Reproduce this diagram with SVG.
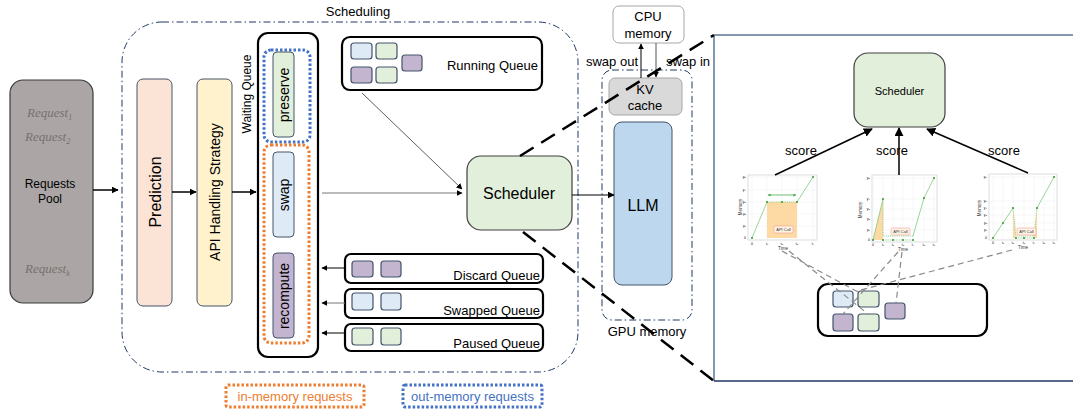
<svg xmlns="http://www.w3.org/2000/svg" width="1073" height="410" viewBox="0 0 1073 410">
<defs>
<marker id="ah" viewBox="0 0 10 10" refX="9" refY="5" markerWidth="7" markerHeight="7" markerUnits="userSpaceOnUse" orient="auto"><path d="M0,0 L10,5 L0,10 z" fill="#000"/></marker>
<marker id="ahs" viewBox="0 0 10 10" refX="9" refY="5" markerWidth="6" markerHeight="6" markerUnits="userSpaceOnUse" orient="auto"><path d="M0,0 L10,5 L0,10 z" fill="#000"/></marker>
<marker id="ahb" viewBox="0 0 10 10" refX="9" refY="5" markerWidth="9" markerHeight="9" markerUnits="userSpaceOnUse" orient="auto"><path d="M0,0 L10,5 L0,10 z" fill="#000"/></marker>
<marker id="ahg" viewBox="0 0 10 10" refX="9" refY="5" markerWidth="3" markerHeight="3" markerUnits="userSpaceOnUse" orient="auto-start-reverse"><path d="M0,0 L10,5 L0,10 z" fill="#4caf50"/></marker>
</defs>
<style>
text{font-family:"Liberation Sans",Arial,sans-serif;fill:#000}
.req{font-family:"Liberation Serif","DejaVu Serif",serif;font-style:italic;fill:#767171;font-size:13px}
.box{stroke:#44546a;stroke-width:1}
.sq{stroke:#44546a;stroke-width:1.2}
.lb{fill:#deebf7}.gr{fill:#e2efda}.pu{fill:#c3b4d0}
.q{fill:#fff;stroke:#000;stroke-width:2.2}
.dd{fill:none;stroke:#1f3864;stroke-width:1;stroke-dasharray:7 3 1.5 3}
.big{fill:none;stroke:#000;stroke-width:2.5;stroke-dasharray:16 9}
.gd{fill:none;stroke:#8a8a8a;stroke-width:1.2;stroke-dasharray:6 4}
.fr{fill:#fff;stroke:#cfcfcf;stroke-width:0.7}
.grid{stroke:#ececec;stroke-width:0.5}
.gl{fill:none;stroke:#7fc97f;stroke-width:0.8}
.gdot{fill:none;stroke:#7fc97f;stroke-width:0.8;stroke-dasharray:1.2 1}
.pt{fill:#2e9b2e}
.tk{font-size:3.5px;fill:#444}
.ax{font-size:4.5px;fill:#333}
.api{font-size:4px;fill:#333}
</style>

<!-- Requests pool -->
<g id="requests-pool">
<rect x="10" y="80" width="83" height="223" rx="13" fill="#aba6a5" stroke="#3a3a3a" stroke-width="1.2"/>
<text class="req" x="27" y="117">Request<tspan font-size="8" dy="3">1</tspan></text>
<text class="req" x="25" y="141">Request<tspan font-size="8" dy="3">2</tspan></text>
<text x="50" y="188" font-size="12" text-anchor="middle">Requests</text>
<text x="50" y="203" font-size="12" text-anchor="middle">Pool</text>
<text class="req" x="25" y="273">Request<tspan font-size="8" dy="3">k</tspan></text>
</g>

<!-- Scheduling container -->
<g id="scheduling">
<rect class="dd" x="122" y="22" width="456" height="350" rx="40"/>
<text x="358" y="16" font-size="13" text-anchor="middle">Scheduling</text>
</g>

<g id="prediction">
<rect class="box" x="137" y="79" width="35" height="227" rx="6" fill="#fbe3d6"/>
<text transform="translate(155,192) rotate(-90)" font-size="16" text-anchor="middle" dominant-baseline="central">Prediction</text>
</g>

<g id="api-handling">
<rect class="box" x="197" y="79" width="35" height="227" rx="6" fill="#fff2cc"/>
<text transform="translate(215,192) rotate(-90)" font-size="14" text-anchor="middle" dominant-baseline="central">API Handling Strategy</text>
</g>

<g id="waiting-queue">
<rect class="q" x="258" y="33" width="60" height="324" rx="10"/>
<text transform="translate(247,94) rotate(-90)" font-size="12" text-anchor="middle" dominant-baseline="central">Waiting Queue</text>
<rect x="264" y="50" width="46" height="92" rx="7" fill="none" stroke="#4472c4" stroke-width="3" stroke-dasharray="2.5 2"/>
<rect x="264" y="145" width="45" height="198" rx="7" fill="none" stroke="#ed7d31" stroke-width="3" stroke-dasharray="2.5 2"/>
</g>
<g id="preserve">
<rect class="box gr" x="273" y="52" width="21" height="85" rx="4"/>
<text transform="translate(284,95) rotate(-90)" font-size="14" text-anchor="middle" dominant-baseline="central">preserve</text>
</g>
<g id="swap">
<rect class="box lb" x="273" y="152" width="21" height="85" rx="4"/>
<text transform="translate(284,195) rotate(-90)" font-size="14" text-anchor="middle" dominant-baseline="central">swap</text>
</g>
<g id="recompute">
<rect class="box pu" x="273" y="253" width="21" height="85" rx="4"/>
<text transform="translate(284,296) rotate(-90)" font-size="14" text-anchor="middle" dominant-baseline="central">recompute</text>
</g>

<g id="running-queue">
<rect class="q" x="342" y="37" width="200" height="53" rx="8"/>
<rect class="sq lb" x="351" y="43" width="21" height="16" rx="3"/>
<rect class="sq gr" x="376" y="43" width="21" height="16" rx="3"/>
<rect class="sq pu" x="402" y="55" width="20" height="16" rx="3"/>
<rect class="sq pu" x="351" y="67" width="21" height="16" rx="3"/>
<rect class="sq gr" x="376" y="67" width="21" height="16" rx="3"/>
<text x="538" y="70" font-size="13" text-anchor="end">Running Queue</text>
</g>

<g id="discard-queue">
<rect class="q" x="345" y="254" width="198" height="29" rx="6"/>
<rect class="sq pu" x="352" y="261" width="21" height="16" rx="3"/>
<rect class="sq pu" x="381" y="261" width="20" height="16" rx="3"/>
<text x="540" y="280" font-size="13" text-anchor="end">Discard Queue</text>
</g>
<g id="swapped-queue">
<rect class="q" x="345" y="289" width="198" height="29" rx="6"/>
<rect class="sq lb" x="352" y="293" width="21" height="17" rx="3"/>
<rect class="sq lb" x="381" y="293" width="20" height="17" rx="3"/>
<text x="540" y="315" font-size="13" text-anchor="end">Swapped Queue</text>
</g>
<g id="paused-queue">
<rect class="q" x="345" y="324" width="198" height="27" rx="6"/>
<rect class="sq gr" x="352" y="328" width="21" height="17" rx="3"/>
<rect class="sq gr" x="381" y="328" width="20" height="17" rx="3"/>
<text x="540" y="348" font-size="13" text-anchor="end">Paused Queue</text>
</g>

<g id="scheduler">
<rect x="467" y="156" width="105" height="74" rx="14" fill="#e2efda" stroke="#404040" stroke-width="1.2"/>
<text x="519" y="199" font-size="16" text-anchor="middle">Scheduler</text>
</g>

<g id="gpu-memory">
<rect class="dd" x="602" y="70" width="90" height="250" rx="10"/>
<text x="647" y="336" font-size="13" text-anchor="middle">GPU memory</text>
</g>
<g id="kv-cache">
<rect x="609" y="78" width="73" height="37" rx="6" fill="#d9d9d9" stroke="#a6a6a6" stroke-width="1"/>
<text x="645" y="94" font-size="13" text-anchor="middle">KV</text>
<text x="645" y="110" font-size="13" text-anchor="middle">cache</text>
</g>
<g id="llm">
<rect x="614" y="122" width="58" height="163" rx="8" fill="#bdd7ee" stroke="#44546a" stroke-width="1"/>
<text x="643" y="211" font-size="16" text-anchor="middle">LLM</text>
</g>
<g id="cpu-memory">
<rect x="613" y="6" width="71" height="37" rx="6" fill="#fff" stroke="#a6a6a6" stroke-width="1"/>
<text x="648" y="21" font-size="13" text-anchor="middle">CPU</text>
<text x="648" y="38" font-size="13" text-anchor="middle">memory</text>
</g>

<!-- right detail panel -->
<g id="detail-panel">
<line x1="714" y1="35" x2="1073" y2="35" stroke="#8497b0" stroke-width="2"/>
<line x1="714" y1="35" x2="714" y2="381" stroke="#8497b0" stroke-width="2"/>
<line x1="714" y1="381" x2="1073" y2="381" stroke="#1f3864" stroke-width="1.5"/>
</g>
<g id="detail-scheduler">
<rect x="854" y="53" width="91" height="74" rx="14" fill="#e2efda" stroke="#404040" stroke-width="1.2"/>
<text x="899.5" y="95" font-size="11" text-anchor="middle">Scheduler</text>
</g>

<g id="chart-1">
<rect class="fr" x="748" y="175" width="69" height="65"/>
<g class="grid"><line x1="752" y1="175" x2="752" y2="240"/><line x1="767" y1="175" x2="767" y2="240"/><line x1="782" y1="175" x2="782" y2="240"/><line x1="797" y1="175" x2="797" y2="240"/><line x1="813" y1="175" x2="813" y2="240"/><line x1="748" y1="226" x2="817" y2="226"/><line x1="748" y1="214" x2="817" y2="214"/><line x1="748" y1="202" x2="817" y2="202"/><line x1="748" y1="190" x2="817" y2="190"/><line x1="748" y1="177" x2="817" y2="177"/></g>
<rect x="767" y="202" width="30" height="36" fill="#fdd9a3"/>
<polyline class="gl" points="752,238 767,202"/><polyline class="gdot" points="767,202 797,202"/><polyline class="gl" points="797,202 813,177"/>
<line x1="768" y1="195" x2="796" y2="195" stroke="#4caf50" stroke-width="0.8" marker-start="url(#ahg)" marker-end="url(#ahg)"/>
<g class="pt"><circle cx="752" cy="238" r="1"/><circle cx="767" cy="202" r="1"/><circle cx="782" cy="202" r="1"/><circle cx="797" cy="202" r="1"/><circle cx="813" cy="177" r="1"/></g>
<rect x="774" y="226" width="19" height="7" rx="1.5" fill="#fff3e3" stroke="#f08a8a" stroke-width="0.5"/>
<text class="api" x="783.5" y="231" text-anchor="middle">API Call</text>
<text class="ax" transform="translate(742,207) rotate(-90)" text-anchor="middle">Memory</text>
<text class="ax" x="783" y="250" text-anchor="middle">Time</text>
<g class="tk" text-anchor="middle"><text x="752" y="245">0</text><text x="767" y="245">t₁</text><text x="782" y="245">t₂</text><text x="797" y="245">t₃</text><text x="813" y="245">t₄</text></g>
<g class="tk" text-anchor="end"><text x="746" y="239">0</text><text x="746" y="227">y₁</text><text x="746" y="215">y₂</text><text x="746" y="203">y₃</text><text x="746" y="191">y₄</text><text x="746" y="178">y₅</text></g>
</g>

<g id="chart-2">
<rect class="fr" x="872" y="175" width="65" height="67"/>
<g class="grid"><line x1="873" y1="175" x2="873" y2="242"/><line x1="883" y1="175" x2="883" y2="242"/><line x1="893" y1="175" x2="893" y2="242"/><line x1="903" y1="175" x2="903" y2="242"/><line x1="913" y1="175" x2="913" y2="242"/><line x1="924" y1="175" x2="924" y2="242"/><line x1="934" y1="175" x2="934" y2="242"/><line x1="872" y1="230" x2="937" y2="230"/><line x1="872" y1="219" x2="937" y2="219"/><line x1="872" y1="209" x2="937" y2="209"/><line x1="872" y1="199" x2="937" y2="199"/><line x1="872" y1="178" x2="937" y2="178"/></g>
<polygon points="873,240 883,199 883,240" fill="#fdd9a3"/>
<polyline class="gl" points="873,240 883,199"/><polyline class="gdot" points="883,199 883,236 913,236"/><polyline class="gdot" points="883,240 913,240"/><polyline class="gl" points="913,236 924,198 934,178"/>
<g class="pt"><circle cx="873" cy="240" r="1"/><circle cx="883" cy="199" r="1"/><circle cx="883" cy="240" r="1"/><circle cx="893" cy="240" r="1"/><circle cx="903" cy="240" r="1"/><circle cx="913" cy="240" r="1"/><circle cx="924" cy="198" r="1"/><circle cx="934" cy="178" r="1"/></g>
<rect x="891" y="228" width="19" height="7" rx="1.5" fill="#fff3e3" stroke="#f08a8a" stroke-width="0.5"/>
<text class="api" x="900.5" y="233" text-anchor="middle">API Call</text>
<text class="ax" transform="translate(862,210) rotate(-90)" text-anchor="middle">Memory</text>
<text class="ax" x="903" y="251" text-anchor="middle">Time</text>
<g class="tk" text-anchor="middle"><text x="873" y="246">0</text><text x="883" y="246">t₁</text><text x="893" y="246">t₂</text><text x="903" y="246">t₃</text><text x="913" y="246">t₄</text><text x="924" y="246">t₅</text><text x="934" y="246">t₆</text></g>
<g class="tk" text-anchor="end"><text x="870" y="241">0</text><text x="870" y="231">y₁</text><text x="870" y="220">y₂</text><text x="870" y="210">y₃</text><text x="870" y="200">y₄</text><text x="870" y="179">y₅</text></g>
</g>

<g id="chart-3">
<rect class="fr" x="989" y="174" width="68" height="66"/>
<g class="grid"><line x1="993" y1="174" x2="993" y2="240"/><line x1="1003" y1="174" x2="1003" y2="240"/><line x1="1013" y1="174" x2="1013" y2="240"/><line x1="1024" y1="174" x2="1024" y2="240"/><line x1="1034" y1="174" x2="1034" y2="240"/><line x1="1044" y1="174" x2="1044" y2="240"/><line x1="1054" y1="174" x2="1054" y2="240"/><line x1="989" y1="230" x2="1057" y2="230"/><line x1="989" y1="223" x2="1057" y2="223"/><line x1="989" y1="215" x2="1057" y2="215"/><line x1="989" y1="208" x2="1057" y2="208"/><line x1="989" y1="201" x2="1057" y2="201"/><line x1="989" y1="177" x2="1057" y2="177"/></g>
<polygon points="1013,208 1016,238 1013,238" fill="#fdd9a3"/>
<polygon points="1034,238 1037,208 1037,238" fill="#fdd9a3"/>
<polyline class="gl" points="993,238 1003,223 1013,208"/><polyline class="gdot" points="1013,208 1016,236 1034,236 1037,208"/><polyline class="gdot" points="1016,238 1034,238"/><polyline class="gl" points="1037,208 1054,177"/>
<g class="pt"><circle cx="993" cy="238" r="1"/><circle cx="1003" cy="223" r="1"/><circle cx="1013" cy="208" r="1"/><circle cx="1016" cy="238" r="1"/><circle cx="1024" cy="238" r="1"/><circle cx="1034" cy="238" r="1"/><circle cx="1037" cy="208" r="1"/><circle cx="1054" cy="177" r="1"/></g>
<rect x="1017" y="228" width="19" height="7" rx="1.5" fill="#fff3e3" stroke="#f08a8a" stroke-width="0.5"/>
<text class="api" x="1026.5" y="233" text-anchor="middle">API Call</text>
<text class="ax" transform="translate(981,208) rotate(-90)" text-anchor="middle">Memory</text>
<text class="ax" x="1023" y="249" text-anchor="middle">Time</text>
<g class="tk" text-anchor="middle"><text x="993" y="244">0</text><text x="1003" y="244">t₁</text><text x="1013" y="244">t₂</text><text x="1024" y="244">t₃</text><text x="1034" y="244">t₄</text><text x="1044" y="244">t₅</text><text x="1054" y="244">t₆</text></g>
<g class="tk" text-anchor="end"><text x="987" y="239">0</text><text x="987" y="231">y₁</text><text x="987" y="224">y₂</text><text x="987" y="216">y₃</text><text x="987" y="209">y₄</text><text x="987" y="202">y₅</text><text x="987" y="178">y₆</text></g>
</g>

<g id="detail-queue">
<rect class="q" x="818" y="284" width="169" height="52" rx="10"/>
<rect class="sq lb" x="833" y="291" width="20" height="16" rx="3"/>
<rect class="sq gr" x="858" y="291" width="21" height="16" rx="3"/>
<rect class="sq pu" x="885" y="303" width="20" height="16" rx="3"/>
<rect class="sq pu" x="833" y="314" width="20" height="17" rx="3"/>
<rect class="sq gr" x="858" y="314" width="21" height="17" rx="3"/>
</g>

<g id="legend">
<rect x="226" y="385" width="138" height="22" rx="2" fill="none" stroke="#ed7d31" stroke-width="3" stroke-dasharray="2.5 2"/>
<text x="295" y="401" font-size="13" style="fill:#ed7d31" text-anchor="middle">in-memory requests</text>
<rect x="403" y="385" width="139" height="22" rx="2" fill="none" stroke="#4472c4" stroke-width="3" stroke-dasharray="2.5 2"/>
<text x="472.5" y="401" font-size="13" style="fill:#4472c4" text-anchor="middle">out-memory requests</text>
</g>

<g id="connectors">
<line x1="93" y1="190" x2="118" y2="190" stroke="#000" stroke-width="1.5" marker-end="url(#ah)"/>
<line x1="172" y1="192" x2="196" y2="192" stroke="#000" stroke-width="1.5" marker-end="url(#ah)"/>
<line x1="232" y1="192" x2="256" y2="192" stroke="#000" stroke-width="1.5" marker-end="url(#ah)"/>
<line x1="322" y1="193" x2="462" y2="193" stroke="#555" stroke-width="0.8" marker-end="url(#ahs)"/>
<line x1="362" y1="93" x2="462" y2="189" stroke="#333" stroke-width="0.8" marker-end="url(#ahs)"/>
<line x1="345" y1="268" x2="322" y2="268" stroke="#000" stroke-width="1" marker-end="url(#ahs)"/>
<line x1="345" y1="303" x2="322" y2="303" stroke="#777" stroke-width="1" marker-end="url(#ahs)"/>
<line x1="345" y1="333" x2="322" y2="333" stroke="#000" stroke-width="1" marker-end="url(#ahs)"/>
<line x1="572" y1="195" x2="614" y2="195" stroke="#000" stroke-width="1.2" marker-end="url(#ah)"/>
<line x1="641" y1="78" x2="641" y2="44" stroke="#000" stroke-width="1" marker-end="url(#ahs)"/>
<line x1="656" y1="43" x2="656" y2="77" stroke="#555" stroke-width="1" marker-end="url(#ahs)"/>
<text x="612" y="66" font-size="13" text-anchor="middle">swap out</text>
<text x="688" y="66" font-size="13" text-anchor="middle">swap in</text>
<line class="big" x1="520" y1="156" x2="714" y2="35"/>
<line class="big" x1="523" y1="232" x2="714" y2="381"/>
<line x1="775" y1="175" x2="872" y2="129" stroke="#000" stroke-width="1.5" marker-end="url(#ahb)"/>
<line x1="899" y1="175" x2="899" y2="128" stroke="#000" stroke-width="1.5" marker-end="url(#ahb)"/>
<line x1="1028" y1="173" x2="927" y2="129" stroke="#000" stroke-width="1.5" marker-end="url(#ahb)"/>
<text x="801" y="155" font-size="13" text-anchor="middle">score</text>
<text x="892" y="155" font-size="13" text-anchor="middle">score</text>
<text x="1004" y="155" font-size="13" text-anchor="middle">score</text>
<line class="gd" x1="782" y1="251" x2="858" y2="292"/>
<line class="gd" x1="789" y1="251" x2="868" y2="314"/>
<line class="gd" x1="898" y1="252" x2="843" y2="314"/>
<line class="gd" x1="902" y1="252" x2="896" y2="303"/>
<line class="gd" x1="1012" y1="250" x2="857" y2="291"/>
</g>
</svg>
